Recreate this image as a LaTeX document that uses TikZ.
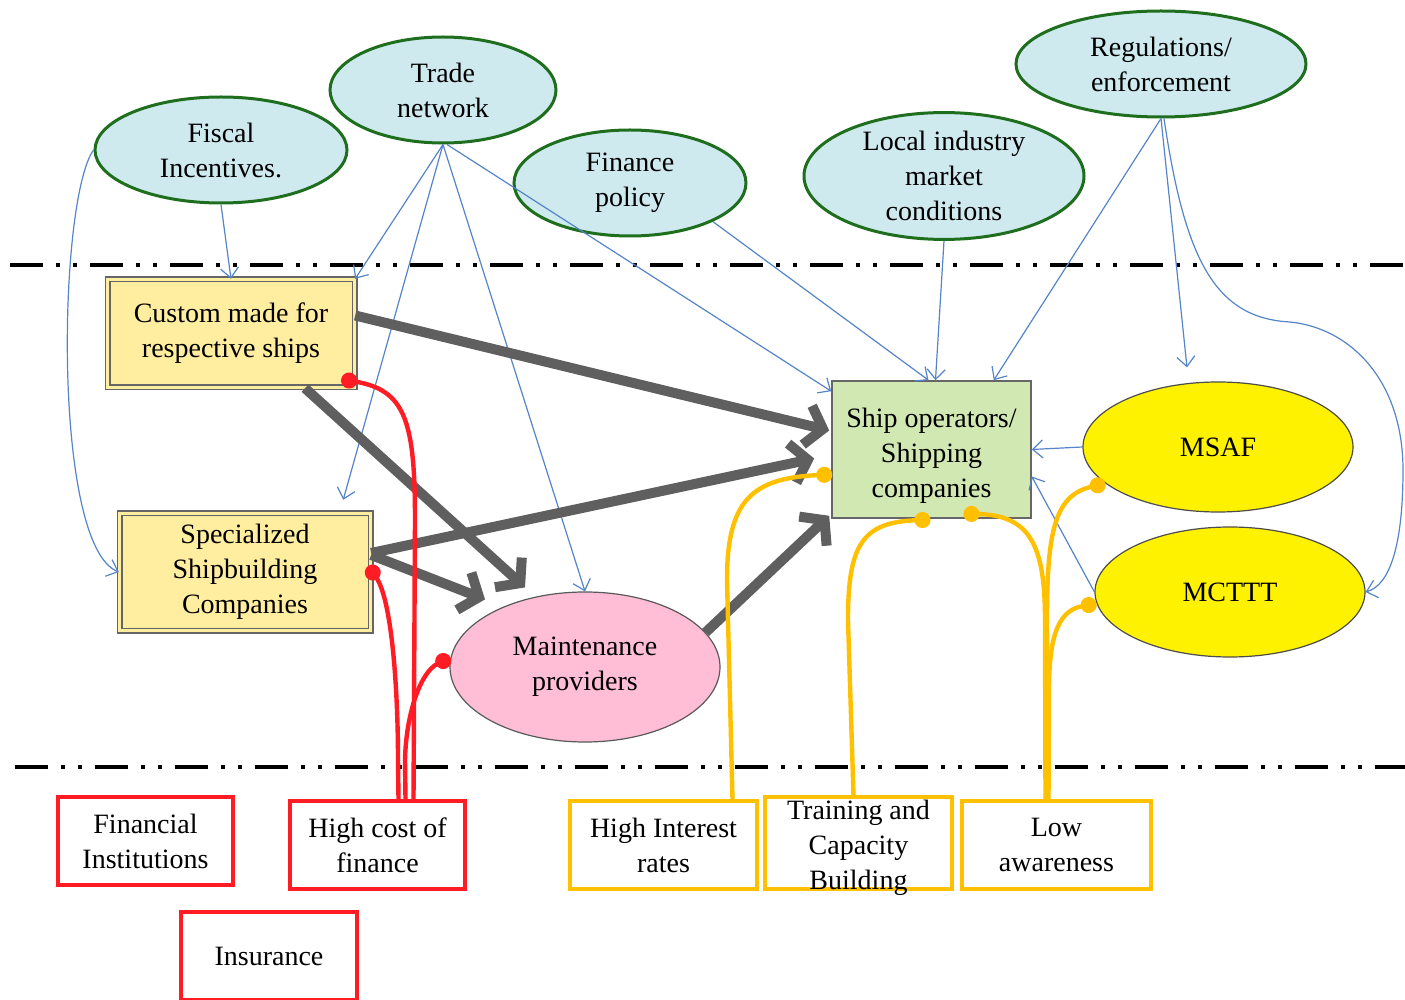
\documentclass[tikz,border=0pt]{standalone}
\usepackage{fontspec}
\setmainfont{Liberation Serif}
\usetikzlibrary{shapes.geometric,arrows.meta}

\definecolor{ellblue}{RGB}{206,234,239}
\definecolor{ellgreen}{RGB}{30,110,30}
\definecolor{boxyellow}{RGB}{255,237,160}
\definecolor{shipgreen}{RGB}{210,232,178}
\definecolor{mspink}{RGB}{255,190,214}
\definecolor{linkblue}{RGB}{85,132,200}
\definecolor{heavygray}{RGB}{95,95,95}
\definecolor{barred}{RGB}{255,28,36}
\definecolor{barorange}{RGB}{255,192,0}

% three centred lines, lowered without changing the node size
\newcommand{\lowlines}[2]{\raisebox{#1}[0pt][0pt]{\begin{tabular}{@{}c@{}}#2\end{tabular}}}

\begin{document}
\begin{tikzpicture}[x=0.5pt,y=-0.5pt,
  font=\fontsize{14}{17.5}\selectfont,
  policy/.style={ellipse, draw=ellgreen, line width=1.5pt, fill=ellblue,
    inner sep=0pt, align=center},
  actor/.style={rectangle, draw=gray!80!black, line width=0.7pt,
    double=boxyellow, double distance=1.6pt, fill=boxyellow,
    inner sep=0pt, align=center},
  agency/.style={ellipse, draw=gray!60!black, line width=0.6pt, fill=yellow,
    inner sep=0pt, align=center},
  barrier/.style={rectangle, line width=2pt, inner sep=0pt, align=center},
  influence/.style={draw=linkblue, line width=0.6pt,
    -{Straight Barb[length=5pt,width=9pt]}},
  flow/.style={draw=heavygray, line width=5pt,
    -{Straight Barb[length=8pt,width=20pt]}},
  redlink/.style={draw=barred, line width=2.2pt, {Circle[length=8pt,width=8pt]}-},
  orangelink/.style={draw=barorange, line width=2.2pt, {Circle[length=8pt,width=8pt]}-},
  divider/.style={line width=2pt,
    dash pattern=on 16.5pt off 6.5pt on 2pt off 6.5pt on 2pt off 6.5pt}
]
\useasboundingbox (0,0) rectangle (1405,1000);

% separators between the policy, actor and barrier levels
\draw[divider] (10,265) -- (1405,265);
\draw[divider] (15,767) -- (1405,767);

% policy environment
\node[policy, minimum width=126pt, minimum height=53pt] (fisc) at (221,150) {Fiscal\\Incentives.};
\node[policy, minimum width=113pt, minimum height=53pt] (trade) at (443,90) {Trade\\network};
\node[policy, minimum width=116pt, minimum height=53pt] (fin) at (630,183) {Finance\\policy};
\node[policy, minimum width=140pt, minimum height=60pt] (local) at (944,176) {Local industry\\market\\conditions};
\node[policy, minimum width=145pt, minimum height=53pt] (regs) at (1161,64) {Regulations/\\enforcement};

% actors
\node[actor, minimum width=123.5pt, minimum height=54pt] (cust) at (231,333.5) {Custom made for\\respective ships};
\node[actor, minimum width=125.5pt, minimum height=58.5pt] (spec) at (245,572) {Specialized\\Shipbuilding\\Companies};
\node[rectangle, draw=gray!80!black, line width=0.8pt, fill=shipgreen, inner sep=0pt,
  align=center, minimum width=99.5pt, minimum height=68.5pt] (ship) at (931.5,449.5)
  {\lowlines{-6.5pt}{Ship operators/\\Shipping\\companies}};
\node[agency, minimum width=135pt, minimum height=65pt] (msaf) at (1218,447) {MSAF};
\node[agency, minimum width=135pt, minimum height=65pt] (mcttt) at (1230,592) {MCTTT};
\node[ellipse, draw=gray!70!black, line width=0.6pt, fill=mspink, inner sep=0pt,
  align=center, minimum width=135pt, minimum height=75pt] (maint) at (585,667)
  {Maintenance\\providers};

% barriers
\node[barrier, draw=barred, minimum width=87.5pt, minimum height=44pt] (finst) at (145.5,841) {Financial\\Institutions};
\node[barrier, draw=barred, minimum width=87.5pt, minimum height=44pt] (hcf) at (377.5,845) {High cost of\\finance};
\node[barrier, draw=barred, minimum width=88pt, minimum height=44pt] (ins) at (269,956) {Insurance};
\node[barrier, draw=barorange, minimum width=93.5pt, minimum height=44pt] (hi) at (663.5,845) {High Interest\\rates};
\node[barrier, draw=barorange, minimum width=93.5pt, minimum height=46pt] (train) at (858.5,843)
  {\lowlines{-6pt}{Training and\\Capacity\\Building}};
\node[barrier, draw=barorange, minimum width=94.5pt, minimum height=44pt] (low) at (1056.5,845) {Low\\awareness};

% policy influences
\draw[influence] (fisc.south) -- (cust.north);
\draw[influence] (fisc.west) .. controls (58,200) and (52,545) .. (spec.west);
\draw[influence] (trade.south) -- (cust.north east);
\draw[influence] (trade.south) -- ([shift={(-28,-13)}]spec.north east);
\draw[influence] (trade.south) -- (maint.north);
\draw[influence] ([shift={(4,0)}]trade.south) -- ([shift={(0,11)}]ship.north west);
\draw[influence] (fin.-25) -- ([shift={(-3,0)}]ship.north);
\draw[influence] (local.south) -- ([shift={(4,0)}]ship.north);
\draw[influence] (regs.south) -- ([shift={(-38,0)}]ship.north east);
\draw[influence] (regs.south) -- ([shift={(-31,-14)}]msaf.north);
\draw[influence] ([shift={(3,0)}]regs.south) .. controls (1185,260) and (1215,318) .. (1290,322)
  .. controls (1350,328) and (1403,380) .. (1403,470)
  .. controls (1403,545) and (1390,585) .. (mcttt.east);
\draw[influence] (msaf.west) -- (ship.east);
\draw[influence] (mcttt.west) -- ([shift={(0,27)}]ship.east);

% main flows between actors
\draw[flow] ([shift={(0,-18)}]cust.east) -- ([shift={(-2,-19)}]ship.west);
\draw[flow] ([shift={(74,0)}]cust.south) -- ([shift={(-60,-4)}]maint.north);
\draw[flow] ([shift={(0,-19)}]spec.east) -- ([shift={(-17,9)}]ship.west);
\draw[flow] ([shift={(0,-17)}]spec.east) -- ([shift={(-100,8)}]maint.north);
\draw[flow] (maint.16) -- ([shift={(-2,-3)}]ship.south west);

% financial barriers
\draw[redlink] ([shift={(-14,-9)}]cust.south east) .. controls (405,390) and (415,420) .. (415,520)
  -- ([shift={(36,0)}]hcf.north);
\draw[redlink] ([shift={(-3,-6)}]spec.east) .. controls (392,600) and (398,690) .. (398,760)
  -- ([shift={(21,0)}]hcf.north);
\draw[redlink] (maint.176) .. controls (420,672) and (406,715) .. (405,760)
  -- ([shift={(28,0)}]hcf.north);

% capacity and awareness barriers
\draw[orangelink] ([shift={(1,25)}]ship.west) .. controls (752,478) and (727,500) .. (727,580)
  -- ([shift={(69,0)}]hi.north);
\draw[orangelink] ([shift={(-1,1)}]ship.south) .. controls (862,522) and (848,545) .. (848,620)
  -- ([shift={(-5,0)}]train.north);
\draw[orangelink] ([shift={(32,-5)}]ship.south) .. controls (1030,515) and (1045,545) .. (1045,620)
  -- ([shift={(-11,0)}]low.north);
\draw[orangelink] (msaf.198) .. controls (1055,495) and (1047,530) .. (1047,620)
  -- ([shift={(-9,0)}]low.north);
\draw[orangelink] (mcttt.185) .. controls (1060,610) and (1049,632) .. (1049,690)
  -- ([shift={(-8,0)}]low.north);
\end{tikzpicture}
\end{document}
